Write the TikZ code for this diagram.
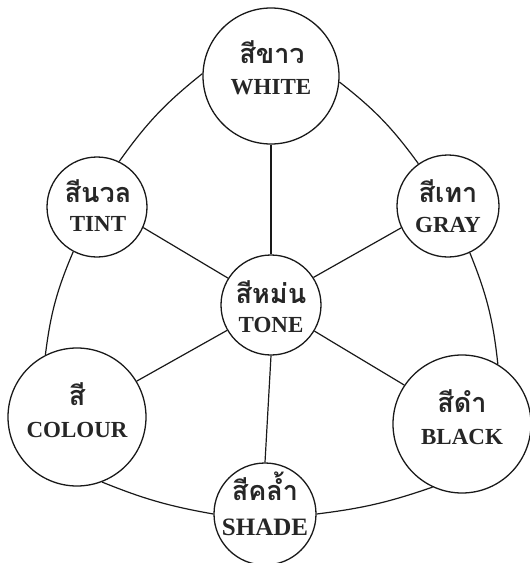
\documentclass[tikz,border=0pt]{standalone}
\usepackage{fontspec}
\setmainfont{Liberation Serif}
\newfontfamily\thaifont[Script=Thai]{Loma}
\begin{document}
\begin{tikzpicture}[x=1pt,y=-1pt,
  ring/.style={circle,draw=black!90,line width=1.3pt,inner sep=0pt},
  thaitext/.style={anchor=base,inner sep=0pt,text depth=0pt,text=black!85,font=\thaifont\bfseries\fontsize{27}{27}\selectfont},
  engtext/.style={anchor=base,inner sep=0pt,text depth=0pt,text=black!85,font=\bfseries\fontsize{23}{23}\selectfont},
  link/.style={draw=black!90,line width=1.2pt}]
\useasboundingbox (0,0) rectangle (530,563);
% circles
\node[ring,minimum size=136pt] (white)  at (271,76)  {};
\node[ring,minimum size=100pt] (tint)   at (97,207)  {};
\node[ring,minimum size=102pt] (gray)   at (448,206) {};
\node[ring,minimum size=100pt] (tone)   at (271,305) {};
\node[ring,minimum size=138pt] (colour) at (77,417)  {};
\node[ring,minimum size=138pt] (black)  at (462,424) {};
\node[ring,minimum size=102pt] (shade)  at (265,514) {};
% texts
\node[thaitext] (whiteth) at (272,63) {สีขาว};
\node[engtext]  (whiteen) at (271,94) {WHITE};
\node[thaitext] (tintth) at (98,202) {สีนวล};
\node[engtext]  (tinten) at (98,231) {TINT};
\node[thaitext] (grayth) at (448,202) {สีเทา};
\node[engtext]  (grayen) at (448,232) {GRAY};
\node[thaitext] (toneth) at (271,303) {สีหม่น};
\node[engtext]  (toneen) at (271,332) {TONE};
\node[thaitext] (colourth) at (77,405) {สี};
\node[engtext]  (colouren) at (77,437) {COLOUR};
\node[thaitext] (blackth) at (462,412) {สีดำ};
\node[engtext]  (blacken) at (462,444) {BLACK};
\node[thaitext] (shadeth) at (265,500) {สีคล้ำ};
\node[engtext,font=\bfseries\fontsize{25}{25}\selectfont] (shadeen) at (265,535) {SHADE};
% outer curved links
\draw[link] (white.178) to[bend right=8] (tint.64);
\draw[link] (white.-5) to[bend left=8] (gray.125.5);
\draw[link] (tint.242.5) to[bend right=8] (colour.117.6);
\draw[link] (gray.-65) to[bend left=8] (black.59.7);
\draw[link] (colour.-69) to[bend right=6] (shade.180);
\draw[link] (black.245) to[bend left=6] (shade.0);
% spokes
\draw[link] (white.south) -- (tone.north);
\draw[link] (tint.-24) -- (tone.148.5);
\draw[link] (gray.205.6) -- (tone.33.7);
\draw[link] (colour.31) -- (tone.210.6);
\draw[link] (black.146.3) -- (tone.-31.9);
\draw[link] (tone.south) -- (shade.north);
\end{tikzpicture}
\end{document}
